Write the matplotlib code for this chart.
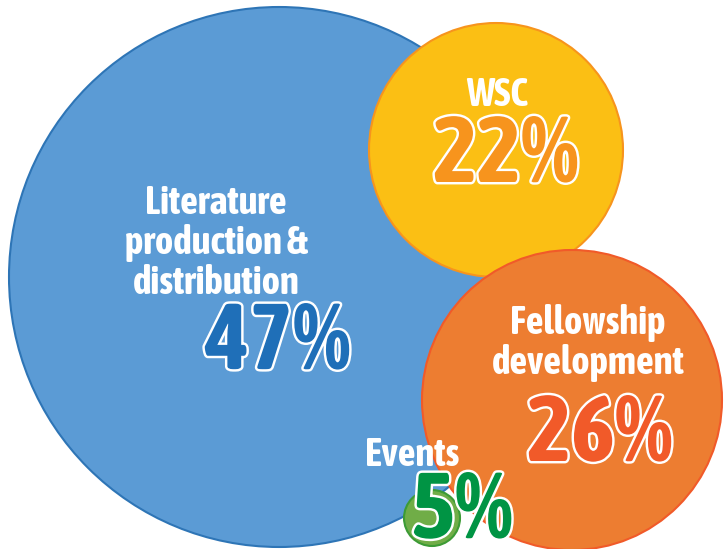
import matplotlib
matplotlib.use('Agg')
import matplotlib.pyplot as plt
import matplotlib.patheffects as pe
from matplotlib.patches import Circle

# ===== Data =====
labels = ['Literature\nproduction &\ndistribution', 'WSC', 'Fellowship\ndevelopment', 'Events']
shares = [47, 22, 26, 5]

# ===== Layout (pixel coords, y down) =====
centers = [(279, 277), (496, 150), (572, 400), (432, 518)]
radii = [270, 127, 150, 28]
fills = ['#5b9bd5', '#fbbf14', '#ed7d31', '#70ad47']
edges = ['#2e75b6', '#f7941d', '#f15a29', '#3d9b35']
pct_colors = ['#1f6fb8', '#f7941d', '#f15a29', '#009444']
label_pos = [(216, 243), (497, 95), (588, 343), (412, 455)]
pct_pos = [(278, 343), (506, 156), (600, 435), (462, 512)]

font = ['Asap Condensed', 'DejaVu Sans']

fig = plt.figure(figsize=(7.25, 5.49), dpi=100)
ax = fig.add_axes([0, 0, 1, 1])
ax.set_xlim(0, 725)
ax.set_ylim(549, 0)
ax.set_aspect('equal')
ax.axis('off')

for i in range(len(shares)):
    ax.add_patch(Circle(centers[i], radii[i], facecolor=fills[i], edgecolor=edges[i],
                        linewidth=1.5, zorder=i + 1))

for i in range(len(shares)):
    ax.text(label_pos[i][0], label_pos[i][1], labels[i], color='white', fontsize=28,
            fontweight='bold', family=font, ha='center', va='center',
            linespacing=1.07, zorder=10)
    ax.text(pct_pos[i][0], pct_pos[i][1], '{}%'.format(shares[i]), color=pct_colors[i],
            fontsize=67, fontweight='bold', family=font, ha='center', va='center',
            zorder=11, path_effects=[pe.Stroke(linewidth=3.5, foreground='white'), pe.Normal()])

plt.savefig('out.png', dpi=100)
